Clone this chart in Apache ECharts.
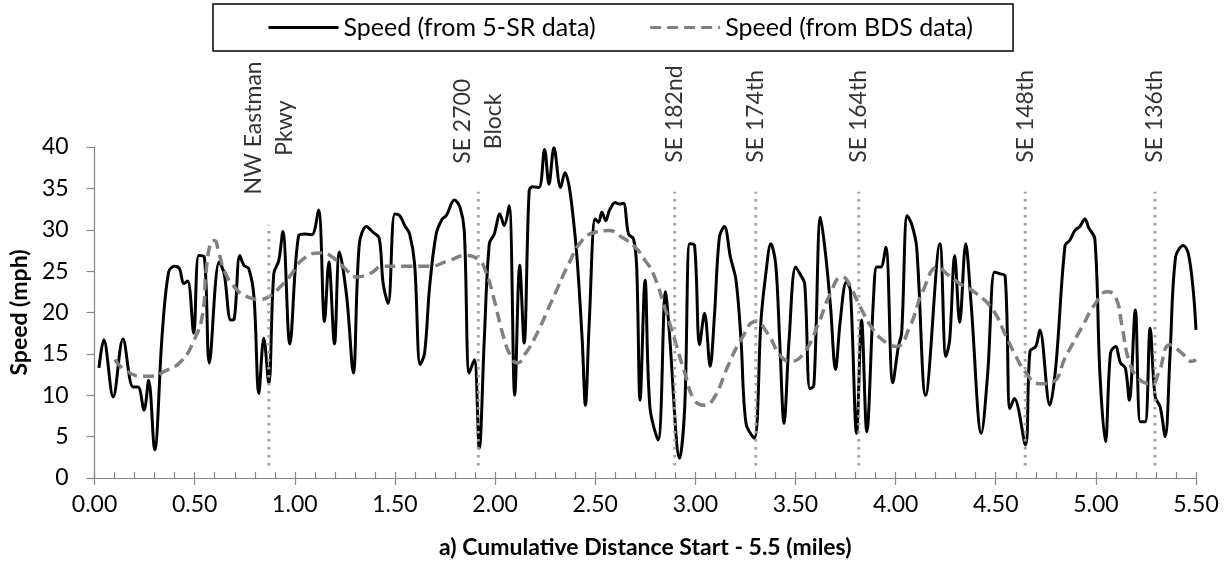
<!DOCTYPE html>
<html>
<head>
<meta charset="utf-8">
<script src="https://cdn.jsdelivr.net/npm/echarts@6/dist/echarts.min.js"></script>
<style>
html,body{margin:0;padding:0;background:#fff;}
#chart{width:1231px;height:567px;}
</style>
</head>
<body>
<div id="chart"></div>
<script>
// ---- data ----
const seriesNames = ['Speed (from 5-SR data)', 'Speed (from BDS data)'];

const srX = [0.022,0.046,0.093,0.142,0.192,0.217,0.247,0.270,0.300,0.338,0.370,0.400,0.424,0.445,0.465,0.495,0.520,0.548,0.573,0.622,0.647,0.680,0.697,0.725,0.746,0.770,0.796,0.820,0.845,0.870,0.895,0.920,0.940,0.975,1.019,1.052,1.085,1.118,1.148,1.170,1.198,1.223,1.259,1.292,1.322,1.358,1.390,1.421,1.441,1.466,1.499,1.524,1.549,1.573,1.598,1.626,1.648,1.673,1.706,1.736,1.756,1.797,1.825,1.846,1.871,1.896,1.921,1.946,1.971,1.996,2.024,2.045,2.070,2.098,2.123,2.145,2.170,2.186,2.219,2.247,2.269,2.294,2.327,2.349,2.368,2.388,2.410,2.435,2.451,2.470,2.500,2.517,2.533,2.553,2.570,2.600,2.620,2.641,2.666,2.691,2.707,2.724,2.749,2.773,2.814,2.851,2.868,2.922,2.947,2.972,2.996,3.021,3.046,3.074,3.095,3.120,3.145,3.175,3.203,3.228,3.253,3.294,3.328,3.352,3.377,3.401,3.421,3.443,3.468,3.501,3.526,3.546,3.572,3.592,3.625,3.650,3.675,3.700,3.724,3.754,3.774,3.805,3.830,3.856,3.890,3.906,3.926,3.951,3.986,4.014,4.030,4.058,4.080,4.105,4.150,4.221,4.251,4.270,4.295,4.320,4.350,4.378,4.428,4.460,4.494,4.518,4.547,4.571,4.593,4.648,4.671,4.700,4.720,4.770,4.800,4.846,4.869,4.895,4.920,4.945,4.965,4.995,5.020,5.048,5.073,5.098,5.123,5.147,5.167,5.197,5.222,5.246,5.271,5.296,5.321,5.346,5.370,5.398,5.437,5.462,5.486,5.500];
const srY = [13.3,16.7,9.8,16.8,11.0,11.0,8.2,11.8,3.4,17.5,24.9,25.6,25.3,23.5,23.8,17.5,26.9,26.7,13.9,26.1,24.7,19.1,19.2,26.9,25.7,25.3,21.9,10.2,16.9,11.4,24.7,26.3,29.8,16.2,29.3,29.5,29.4,32.4,18.9,26.1,16.2,27.3,21.9,12.7,28.3,30.4,29.7,29.0,23.5,21.1,31.9,31.7,30.5,29.5,25.9,13.7,15.1,23.1,29.5,31.3,31.7,33.6,32.7,29.9,12.7,14.3,3.6,16.7,28.3,29.5,31.9,30.5,32.9,10.0,25.7,16.3,34.7,35.2,35.1,39.7,35.5,39.9,35.1,36.9,35.5,31.9,26.3,16.7,8.8,18.7,31.3,30.9,32.1,31.1,32.3,33.3,33.1,33.2,29.5,28.9,25.5,9.4,23.9,8.6,4.6,22.5,18.3,2.4,8.6,28.3,28.1,16.1,19.9,13.5,19.5,29.1,30.4,26.7,23.9,16.7,6.6,4.8,19.1,24.7,28.3,25.9,16.7,6.6,16.7,25.5,24.5,23.5,10.8,11.2,31.5,27.1,20.7,13.1,19.1,23.7,22.7,5.4,19.1,5.6,21.9,25.5,25.5,27.9,11.5,15.9,17.5,31.7,30.7,27.9,10.0,28.3,14.7,16.7,26.9,18.8,28.3,20.7,5.4,12.7,24.9,24.7,24.4,8.4,9.6,4.0,15.3,15.9,17.9,8.8,13.5,28.1,28.7,29.9,30.4,31.3,30.2,28.9,12.7,4.4,15.1,15.9,13.9,13.3,9.4,20.3,6.8,6.8,18.1,9.8,8.6,5.0,14.7,26.7,28.1,27.1,22.7,17.9];

const bdsX = [0.101,0.150,0.233,0.283,0.350,0.432,0.498,0.540,0.556,0.580,0.597,0.622,0.647,0.697,0.763,0.829,0.870,0.928,0.978,1.044,1.127,1.176,1.243,1.309,1.375,1.441,1.541,1.673,1.772,1.855,1.921,1.954,1.996,2.037,2.078,2.111,2.153,2.202,2.285,2.368,2.434,2.500,2.566,2.633,2.699,2.749,2.790,2.856,2.897,2.947,2.996,3.046,3.096,3.162,3.228,3.302,3.360,3.427,3.476,3.542,3.609,3.674,3.732,3.757,3.823,3.889,3.956,4.005,4.071,4.138,4.212,4.254,4.320,4.403,4.486,4.552,4.601,4.651,4.717,4.783,4.850,4.932,4.998,5.056,5.098,5.131,5.164,5.214,5.280,5.313,5.371,5.429,5.478,5.500];
const bdsY = [14.3,13.1,12.3,12.3,12.9,14.1,16.7,19.9,24.7,28.5,28.7,27.1,25.1,23.1,21.9,21.6,21.9,23.1,24.5,26.5,27.2,26.9,25.5,24.3,24.7,25.6,25.6,25.6,26.3,26.9,26.3,24.9,21.5,17.5,14.7,13.9,15.1,17.1,21.5,25.9,28.7,29.7,29.9,29.1,27.9,26.3,24.7,19.9,16.7,12.7,9.4,8.8,9.8,13.5,16.7,18.9,17.5,14.7,14.1,15.1,18.3,22.3,24.3,23.9,20.7,17.9,16.3,15.9,18.3,22.7,25.5,24.7,23.5,22.3,20.3,17.1,14.7,12.7,11.4,11.6,14.7,18.3,21.1,22.5,21.9,18.3,14.3,12.0,11.4,12.7,16.1,15.1,14.1,14.3];

// street markers (vertical dotted lines) and their labels
const markerX = [0.870, 1.916, 2.897, 3.302, 3.816, 4.647, 5.295];
const markerTop = [30.6, 34.6, 34.6, 34.6, 34.6, 34.6, 34.6];
const markerBottom = 1.5;
const markerNames = ['NW Eastman\nPkwy', 'SE 2700\nBlock', 'SE 182nd', 'SE 174th', 'SE 164th', 'SE 148th', 'SE 136th'];
const markerLabelY = [42.3, 43.1, 38.1, 38.1, 38.1, 38.1, 38.1];
const markerLabelAlign = ['center', 'center', 'left', 'left', 'left', 'left', 'left'];

const xTitle = 'a) Cumulative Distance Start - 5.5 (miles)';
const yTitle = 'Speed (mph)';

// ---- chart ----
const FONT = 'Lato';
const chart = echarts.init(document.getElementById('chart'), null, {renderer: 'canvas'});

const zip = (a, b) => a.map((v, i) => [v, b[i]]);

const markerSeries = markerX.map((x, i) => ({
  type: 'line',
  name: 'marker' + i,
  xAxisIndex: 0,
  data: [[x, markerBottom], [x, markerTop[i]]],
  symbol: 'none',
  silent: true,
  z: 5,
  itemStyle: {color: '#a0a0a0'},
  lineStyle: {color: '#a0a0a0', width: 3, type: [2.6, 5.4]}
}));

const option = {
  animation: false,
  backgroundColor: '#fff',
  textStyle: {fontFamily: FONT},
  grid: {left: 88, right: 35, top: 147, bottom: 89},
  legend: {
    data: seriesNames,
    left: 213, top: 4,
    orient: 'horizontal',
    itemWidth: 70, itemHeight: 14, itemGap: 53,
    padding: [11, 40, 11, 54],
    borderColor: '#000', borderWidth: 1.5,
    itemStyle: {opacity: 0},
    lineStyle: {width: 3},
    textStyle: {fontFamily: FONT, fontSize: 25, color: '#000'}
  },
  xAxis: [{
    type: 'value', min: 0, max: 5.5, interval: 0.5,
    name: xTitle, nameLocation: 'middle', nameGap: 58,
    nameTextStyle: {fontFamily: FONT, fontSize: 23, fontWeight: 'bold', color: '#000'},
    axisLine: {show: true, onZero: false, lineStyle: {color: '#868686', width: 1.2}},
    axisTick: {show: true, length: 7, lineStyle: {color: '#868686', width: 1.2}},
    axisLabel: {formatter: v => v.toFixed(2), fontFamily: FONT, fontSize: 23, color: '#000', margin: 15},
    splitLine: {show: false}
  }, {
    type: 'value', min: 0, max: 5.5, interval: 0.1, position: 'bottom',
    axisLine: {show: false},
    axisTick: {show: true, inside: true, length: 6, lineStyle: {color: '#868686', width: 1.2}},
    axisLabel: {show: false},
    splitLine: {show: false}
  }],
  yAxis: {
    type: 'value', min: 0, max: 40, interval: 5,
    name: yTitle, nameLocation: 'middle', nameGap: 59,
    nameTextStyle: {fontFamily: FONT, fontSize: 23, fontWeight: 'bold', color: '#000'},
    axisLine: {show: true, lineStyle: {color: '#868686', width: 1.2}},
    axisTick: {show: true, length: 8, lineStyle: {color: '#868686', width: 1.2}},
    axisLabel: {fontFamily: FONT, fontSize: 23, color: '#000', margin: 26},
    splitLine: {show: false}
  },
  series: [{
    type: 'line', name: seriesNames[0],
    data: zip(srX, srY),
    smooth: 0.35, symbol: 'none', z: 3,
    itemStyle: {color: '#000'},
    lineStyle: {color: '#000', width: 3}
  }, {
    type: 'line', name: seriesNames[1],
    data: zip(bdsX, bdsY),
    smooth: 0.5, symbol: 'none', z: 4,
    itemStyle: {color: '#808080'},
    lineStyle: {color: '#808080', width: 3.5, type: [11, 6]}
  }].concat(markerSeries).concat([{
    type: 'scatter', name: 'markerLabels',
    clip: false, silent: true, z: 6,
    symbolSize: 0,
    itemStyle: {color: '#000'},
    data: markerX.map((x, i) => ({
      name: markerNames[i],
      value: [x, markerLabelY[i]],
      label: {align: markerLabelAlign[i]}
    })),
    label: {
      show: true, position: 'inside', rotate: 90,
      verticalAlign: 'middle',
      formatter: p => p.name,
      fontFamily: FONT, fontSize: 23, lineHeight: 31, color: '#000'
    }
  }])
};
chart.setOption(option);
</script>
</body>
</html>
